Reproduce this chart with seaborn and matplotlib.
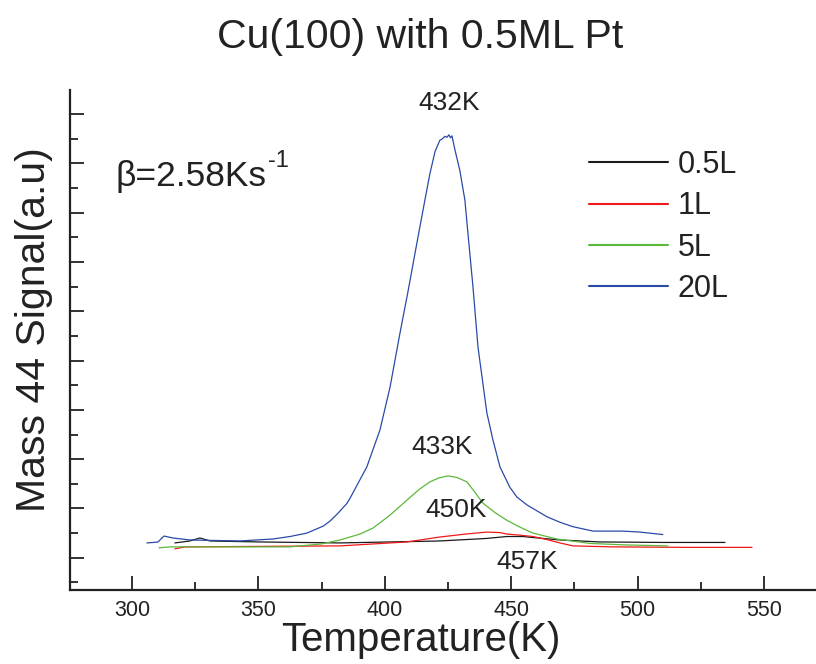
import matplotlib
matplotlib.use("Agg")
import matplotlib.pyplot as plt
from matplotlib.ticker import MultipleLocator, NullFormatter
import seaborn as sns
import pandas as pd

# ---- data (y in arbitrary units = major tick spacing) ----
dose_labels = ["0.5L", "1L", "5L", "20L"]

t_05 = [317.0, 322.9, 326.9, 330.9, 350.0, 382.3, 421.8, 440.0, 448.3, 454.7, 458.6, 469.3, 485.1, 510.0, 534.6]
s_05 = [0.30, 0.34, 0.40, 0.34, 0.32, 0.30, 0.34, 0.39, 0.43, 0.43, 0.41, 0.36, 0.32, 0.31, 0.31]

t_1 = [317.0, 321.0, 350.0, 382.3, 408.8, 421.8, 432.0, 440.4, 445.6, 448.3, 453.0, 458.6, 464.0, 469.3, 474.4, 490.0, 520.0, 545.3]
s_1 = [0.18, 0.22, 0.23, 0.24, 0.32, 0.42, 0.48, 0.52, 0.51, 0.48, 0.46, 0.43, 0.37, 0.30, 0.24, 0.22, 0.21, 0.21]

t_5 = [310.7, 315.0, 340.0, 362.5, 375.0, 382.3, 390.2, 395.3, 402.0, 408.8, 413.5, 417.9, 421.5, 425.0, 428.5,
       432.5, 435.5, 438.8, 443.5, 448.3, 453.5, 458.6, 468.1, 481.2, 495.0, 512.0]
s_5 = [0.20, 0.22, 0.22, 0.22, 0.28, 0.36, 0.48, 0.60, 0.86, 1.17, 1.38, 1.54, 1.62, 1.66, 1.63,
       1.54, 1.34, 1.11, 0.92, 0.76, 0.62, 0.50, 0.38, 0.29, 0.26, 0.24]

t_20 = [305.9, 308.5, 310.3, 312.7, 316.2, 322.9, 342.7, 355.8, 362.5, 369.2, 375.6, 378.3, 381.1, 385.0,
        386.2, 392.9, 398.1, 402.1, 406.0, 409.2, 412.7, 415.9, 417.9, 419.9, 421.8, 422.8, 423.8,
        424.6, 425.4, 426.0, 426.6, 427.8, 429.7, 431.7, 432.9, 434.9, 436.9, 440.4, 442.8, 445.6, 449.5,
        452.3, 456.3, 464.2, 469.3, 474.4, 482.4, 494.2, 501.0, 510.0]
s_20 = [0.30, 0.31, 0.32, 0.44, 0.40, 0.36, 0.34, 0.38, 0.43, 0.50, 0.64, 0.74, 0.88, 1.10,
        1.20, 1.84, 2.59, 3.46, 4.55, 5.40, 6.38, 7.26, 7.80, 8.24, 8.47, 8.50, 8.55,
        8.53, 8.58, 8.52, 8.56, 8.27, 7.86, 7.26, 6.59, 5.50, 4.27, 2.94, 2.39, 1.84, 1.43,
        1.23, 1.07, 0.83, 0.72, 0.63, 0.54, 0.54, 0.52, 0.47]

colors = ["#1a1a1a", "#f01818", "#5cb83a", "#2a4aa8"]

title_text = "Cu(100) with 0.5ML Pt"
x_label = "Temperature(K)"
y_label = "Mass 44 Signal(a.u)"
x_ticks = [300, 350, 400, 450, 500, 550]
peak_labels = ["432K", "433K", "450K", "457K"]
peak_pos = [(425.4, 9.22), (422.6, 2.25), (428.2, 0.97), (456.2, -0.09)]

# ---- build long-form table ----
frames = []
for lab, t, s in zip(dose_labels, [t_05, t_1, t_5, t_20], [s_05, s_1, s_5, s_20]):
    frames.append(pd.DataFrame({"T": t, "S": s, "dose": lab}))
df = pd.concat(frames, ignore_index=True)

sns.set_theme(style="ticks")
plt.rcParams["font.family"] = ["Liberation Sans", "DejaVu Sans"]

fig = plt.figure(figsize=(8.16, 6.64), dpi=100)
ax = fig.add_axes([70 / 816, 74 / 664, 746 / 816, 500 / 664])

sns.lineplot(data=df, x="T", y="S", hue="dose", hue_order=dose_labels,
             palette=dict(zip(dose_labels, colors)), estimator=None, sort=False,
             units="dose", linewidth=0.9, ax=ax, legend=False)

ax.set_xlim(275.5, 570.6)
ax.set_ylim(-0.655, 9.49)

ax.xaxis.set_minor_locator(MultipleLocator(25))
ax.yaxis.set_major_locator(MultipleLocator(1))
ax.yaxis.set_minor_locator(MultipleLocator(0.5))
ax.yaxis.set_major_formatter(NullFormatter())
ax.set_xticks(x_ticks)
ax.set_xticklabels([str(v) for v in x_ticks], fontsize=15.5)
ax.tick_params(axis="both", which="major", direction="in", length=10, width=1.3, color="#222222", pad=7)
ax.tick_params(axis="both", which="minor", direction="in", length=5.5, width=1.3, color="#222222")
ax.tick_params(axis="x", labelcolor="#222222")

for side in ["top", "right"]:
    ax.spines[side].set_visible(False)
for side in ["left", "bottom"]:
    ax.spines[side].set_linewidth(1.6)
    ax.spines[side].set_color("#222222")

ax.set_xlabel("")
ax.set_ylabel("")
fig.text(421 / 816, 1 - 640 / 664, x_label, fontsize=29, color="#222222", ha="center", va="center")
fig.text(34 / 816, 1 - 330 / 664, y_label, fontsize=29.5, color="#222222", ha="center", va="center",
         rotation=90)
fig.text(420 / 816, 1 - 37 / 664, title_text, fontsize=29.5, color="#222222", ha="center", va="center")

for txt, (tx, ty) in zip(peak_labels, peak_pos):
    ax.text(tx, ty, txt, fontsize=19, color="#222222", ha="center", va="center")

beta = fig.text(116 / 816, 1 - 186 / 664, "\u03b2=2.58Ks", fontsize=25.5, color="#222222",
                ha="left", va="baseline")
fig.canvas.draw()
bb = beta.get_window_extent(renderer=fig.canvas.get_renderer())
fig.text((bb.x1 + 1) / 816, (bb.y0 + 26) / 664, "-1", fontsize=17, color="#222222",
         ha="left", va="baseline")

handles = [plt.Line2D([], [], color=c, lw=1.5) for c in colors]
leg = ax.legend(handles, dose_labels, loc="upper left",
                bbox_to_anchor=(589 / 816, 1 - 150 / 664), bbox_transform=fig.transFigure,
                frameon=False, fontsize=22, handlelength=2.6, handletextpad=0.3,
                labelspacing=0.37, borderpad=0, borderaxespad=0)
for t in leg.get_texts():
    t.set_color("#222222")

fig.savefig("out.png", dpi=100)
